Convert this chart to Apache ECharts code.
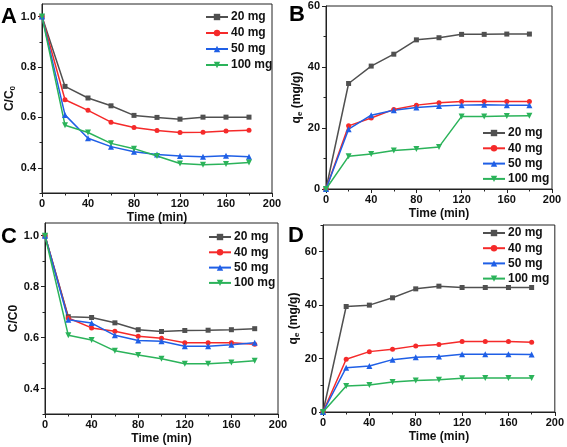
<!DOCTYPE html>
<html>
<head>
<meta charset="utf-8">
<script src="https://cdn.jsdelivr.net/npm/echarts@6/dist/echarts.min.js"></script>
<style>html,body{margin:0;padding:0;background:#fff}#c{width:567px;height:447px}</style>
</head>
<body>
<div id="c"></div>
<script>
var time = [0, 20, 40, 60, 80, 100, 120, 140, 160, 180];
var names = ['20 mg', '40 mg', '50 mg', '100 mg'];

// Panel A: C/C0
var a20  = [1.0, 0.723, 0.677, 0.646, 0.608, 0.600, 0.593, 0.601, 0.601, 0.601];
var a40  = [1.0, 0.670, 0.628, 0.581, 0.560, 0.548, 0.540, 0.541, 0.546, 0.549];
var a50  = [1.0, 0.610, 0.517, 0.484, 0.464, 0.453, 0.447, 0.444, 0.448, 0.444];
var a100 = [1.0, 0.569, 0.540, 0.497, 0.476, 0.447, 0.417, 0.412, 0.415, 0.421];

// Panel B: qe (mg/g)
var b20  = [0, 34.6, 40.3, 44.2, 48.9, 49.6, 50.7, 50.7, 50.8, 50.8];
var b40  = [0, 20.7, 23.3, 26.1, 27.5, 28.3, 28.7, 28.7, 28.7, 28.7];
var b50  = [0, 19.6, 24.2, 25.8, 26.7, 27.2, 27.5, 27.6, 27.5, 27.5];
var b100 = [0, 10.7, 11.5, 12.6, 13.1, 13.8, 23.8, 23.8, 23.9, 24.0];

// Panel C: C/C0
var c20  = [1.0, 0.682, 0.679, 0.658, 0.631, 0.624, 0.628, 0.629, 0.631, 0.635];
var c40  = [1.0, 0.677, 0.638, 0.625, 0.605, 0.597, 0.580, 0.580, 0.580, 0.574];
var c50  = [1.0, 0.670, 0.657, 0.609, 0.589, 0.586, 0.566, 0.566, 0.572, 0.580];
var c100 = [1.0, 0.609, 0.591, 0.548, 0.532, 0.517, 0.497, 0.497, 0.502, 0.509];

// Panel D: qe (mg/g)
var d20  = [0, 39.5, 40.0, 42.75, 46.1, 47.1, 46.6, 46.6, 46.6, 46.6];
var d40  = [0, 19.75, 22.6, 23.5, 24.75, 25.25, 26.4, 26.4, 26.4, 26.1];
var d50  = [0, 16.6, 17.25, 19.6, 20.5, 20.75, 21.6, 21.6, 21.6, 21.5];
var d100 = [0, 9.75, 10.1, 11.25, 11.75, 12.1, 12.6, 12.75, 12.75, 12.75];

var xTicks = [0, 40, 80, 120, 160, 200];
var cTicks = [0.4, 0.6, 0.8, 1.0];
var cMinor = [0.3, 0.5, 0.7, 0.9];
var qTicksB = [0, 20, 40, 60];
var qMinorB = [10, 30, 50];
var qTicksD = [0, 20, 40, 60];
var qMinorD = [10, 30, 50, 70];

var colors = ['#505050', '#f52a2a', '#1f5fe6', '#2bb35a'];
var symbols = ['rect', 'circle', 'triangle', 'path://M0,0 L10,0 L5,9 Z'];
var FONT = 'Liberation Sans, Arial, sans-serif';

var grids = [
  {left: 42, top: 4, width: 230, height: 189},
  {left: 326, top: 6, width: 226, height: 183},
  {left: 45, top: 223, width: 233, height: 191},
  {left: 323, top: 225, width: 233, height: 187}
];
grids.forEach(function (g) { g.show = true; g.borderColor = '#222'; g.borderWidth = 1; g.backgroundColor = 'transparent'; });

function xAxis(i) {
  return {
    type: 'value', gridIndex: i, min: 0, max: 200, interval: 40,
    name: 'Time (min)', nameLocation: 'middle', nameGap: 19,
    nameTextStyle: {fontFamily: FONT, fontWeight: 'bold', fontSize: 12, color: '#111'},
    axisLine: {lineStyle: {color: '#222', width: 1}},
    axisTick: {length: 4, lineStyle: {color: '#222'}},
    minorTick: {show: true, splitNumber: 2, length: 2.5, lineStyle: {color: '#222'}},
    axisLabel: {fontFamily: FONT, fontWeight: 'bold', fontSize: 11, color: '#111', margin: 5},
    splitLine: {show: false}
  };
}
function yAxisMain(i, min, max, ticks, name, rich, gap) {
  return {
    type: 'value', gridIndex: i, min: min, max: max,
    name: name, nameLocation: 'middle', nameGap: gap,
    nameTextStyle: {fontFamily: FONT, fontWeight: 'bold', fontSize: 12, color: '#111', rich: rich},
    axisLine: {show: true, lineStyle: {color: '#222', width: 1}},
    axisTick: {show: true, length: 4, customValues: ticks, lineStyle: {color: '#222'}},
    axisLabel: {fontFamily: FONT, fontWeight: 'bold', fontSize: 11, color: '#111', margin: 6,
      customValues: ticks, formatter: function (v) { return min < 1 && max < 2 ? v.toFixed(1) : String(Math.round(v)); }},
    splitLine: {show: false}
  };
}
function yAxisMinor(i, min, max, minor) {
  return {
    type: 'value', gridIndex: i, min: min, max: max, position: 'left',
    axisLine: {show: false},
    axisTick: {show: true, length: 2.5, customValues: minor, lineStyle: {color: '#222'}},
    axisLabel: {show: false},
    splitLine: {show: false}
  };
}

var subRich = {
  n: {fontFamily: FONT, fontWeight: 'bold', fontSize: 12, color: '#111'},
  s: {fontFamily: FONT, fontWeight: 'bold', fontSize: 8, color: '#111', padding: [6, 0, 0, 0]}
};

var xAxes = [xAxis(0), xAxis(1), xAxis(2), xAxis(3)];
var yAxes = [
  yAxisMain(0, 0.3, 1.05, cTicks, '{n|C/C}{s|0}', subRich, 22),
  yAxisMain(1, 0, 60, qTicksB, '{n|q}{s|e}{n| (mg/g)}', subRich, 18),
  yAxisMain(2, 0.3, 1.05, cTicks, 'C/C0', subRich, 22),
  yAxisMain(3, 0, 70, qTicksD, '{n|q}{s|e}{n| (mg/g)}', subRich, 18),
  yAxisMinor(0, 0.3, 1.05, cMinor),
  yAxisMinor(1, 0, 60, qMinorB),
  yAxisMinor(2, 0.3, 1.05, cMinor),
  yAxisMinor(3, 0, 70, qMinorD)
];

var panelData = [[a20, a40, a50, a100], [b20, b40, b50, b100], [c20, c40, c50, c100], [d20, d40, d50, d100]];
var series = [];
panelData.forEach(function (set, p) {
  set.forEach(function (vals, k) {
    series.push({
      name: names[k], type: 'line', xAxisIndex: p, yAxisIndex: p,
      data: time.map(function (t, j) { return [t, vals[j]]; }),
      symbol: symbols[k], symbolSize: k === 3 ? 6 : (k === 2 ? 6 : 5),
      lineStyle: {width: 1.5, color: colors[k]},
      itemStyle: {color: colors[k]},
      animation: false
    });
  });
});

function legend(left, top, gap) {
  return {
    orient: 'vertical', left: left, top: top, itemWidth: 22, itemHeight: 8, itemGap: gap,
    padding: 0,
    textStyle: {fontFamily: FONT, fontWeight: 'bold', fontSize: 12, color: '#111', lineHeight: 14, padding: [0, 0, 0, -2]},
    data: names
  };
}

function letter(t, x, y) {
  return {type: 'text', left: x, top: y, style: {text: t, fontFamily: FONT, fontWeight: 'bold', fontSize: 22, fill: '#000'}};
}

var chart = echarts.init(document.getElementById('c'), null, {renderer: 'canvas'});
chart.setOption({
  animation: false,
  backgroundColor: '#fff',
  color: colors,
  grid: grids,
  xAxis: xAxes,
  yAxis: yAxes,
  legend: [legend(205, 10, 2), legend(482, 126, 1.3), legend(208, 230, 1.3), legend(482, 226, 1.2)],
  graphic: [letter('A', 1, 6), letter('B', 289, 4), letter('C', 1, 226), letter('D', 288, 225)],
  series: series
});
</script>
</body>
</html>
